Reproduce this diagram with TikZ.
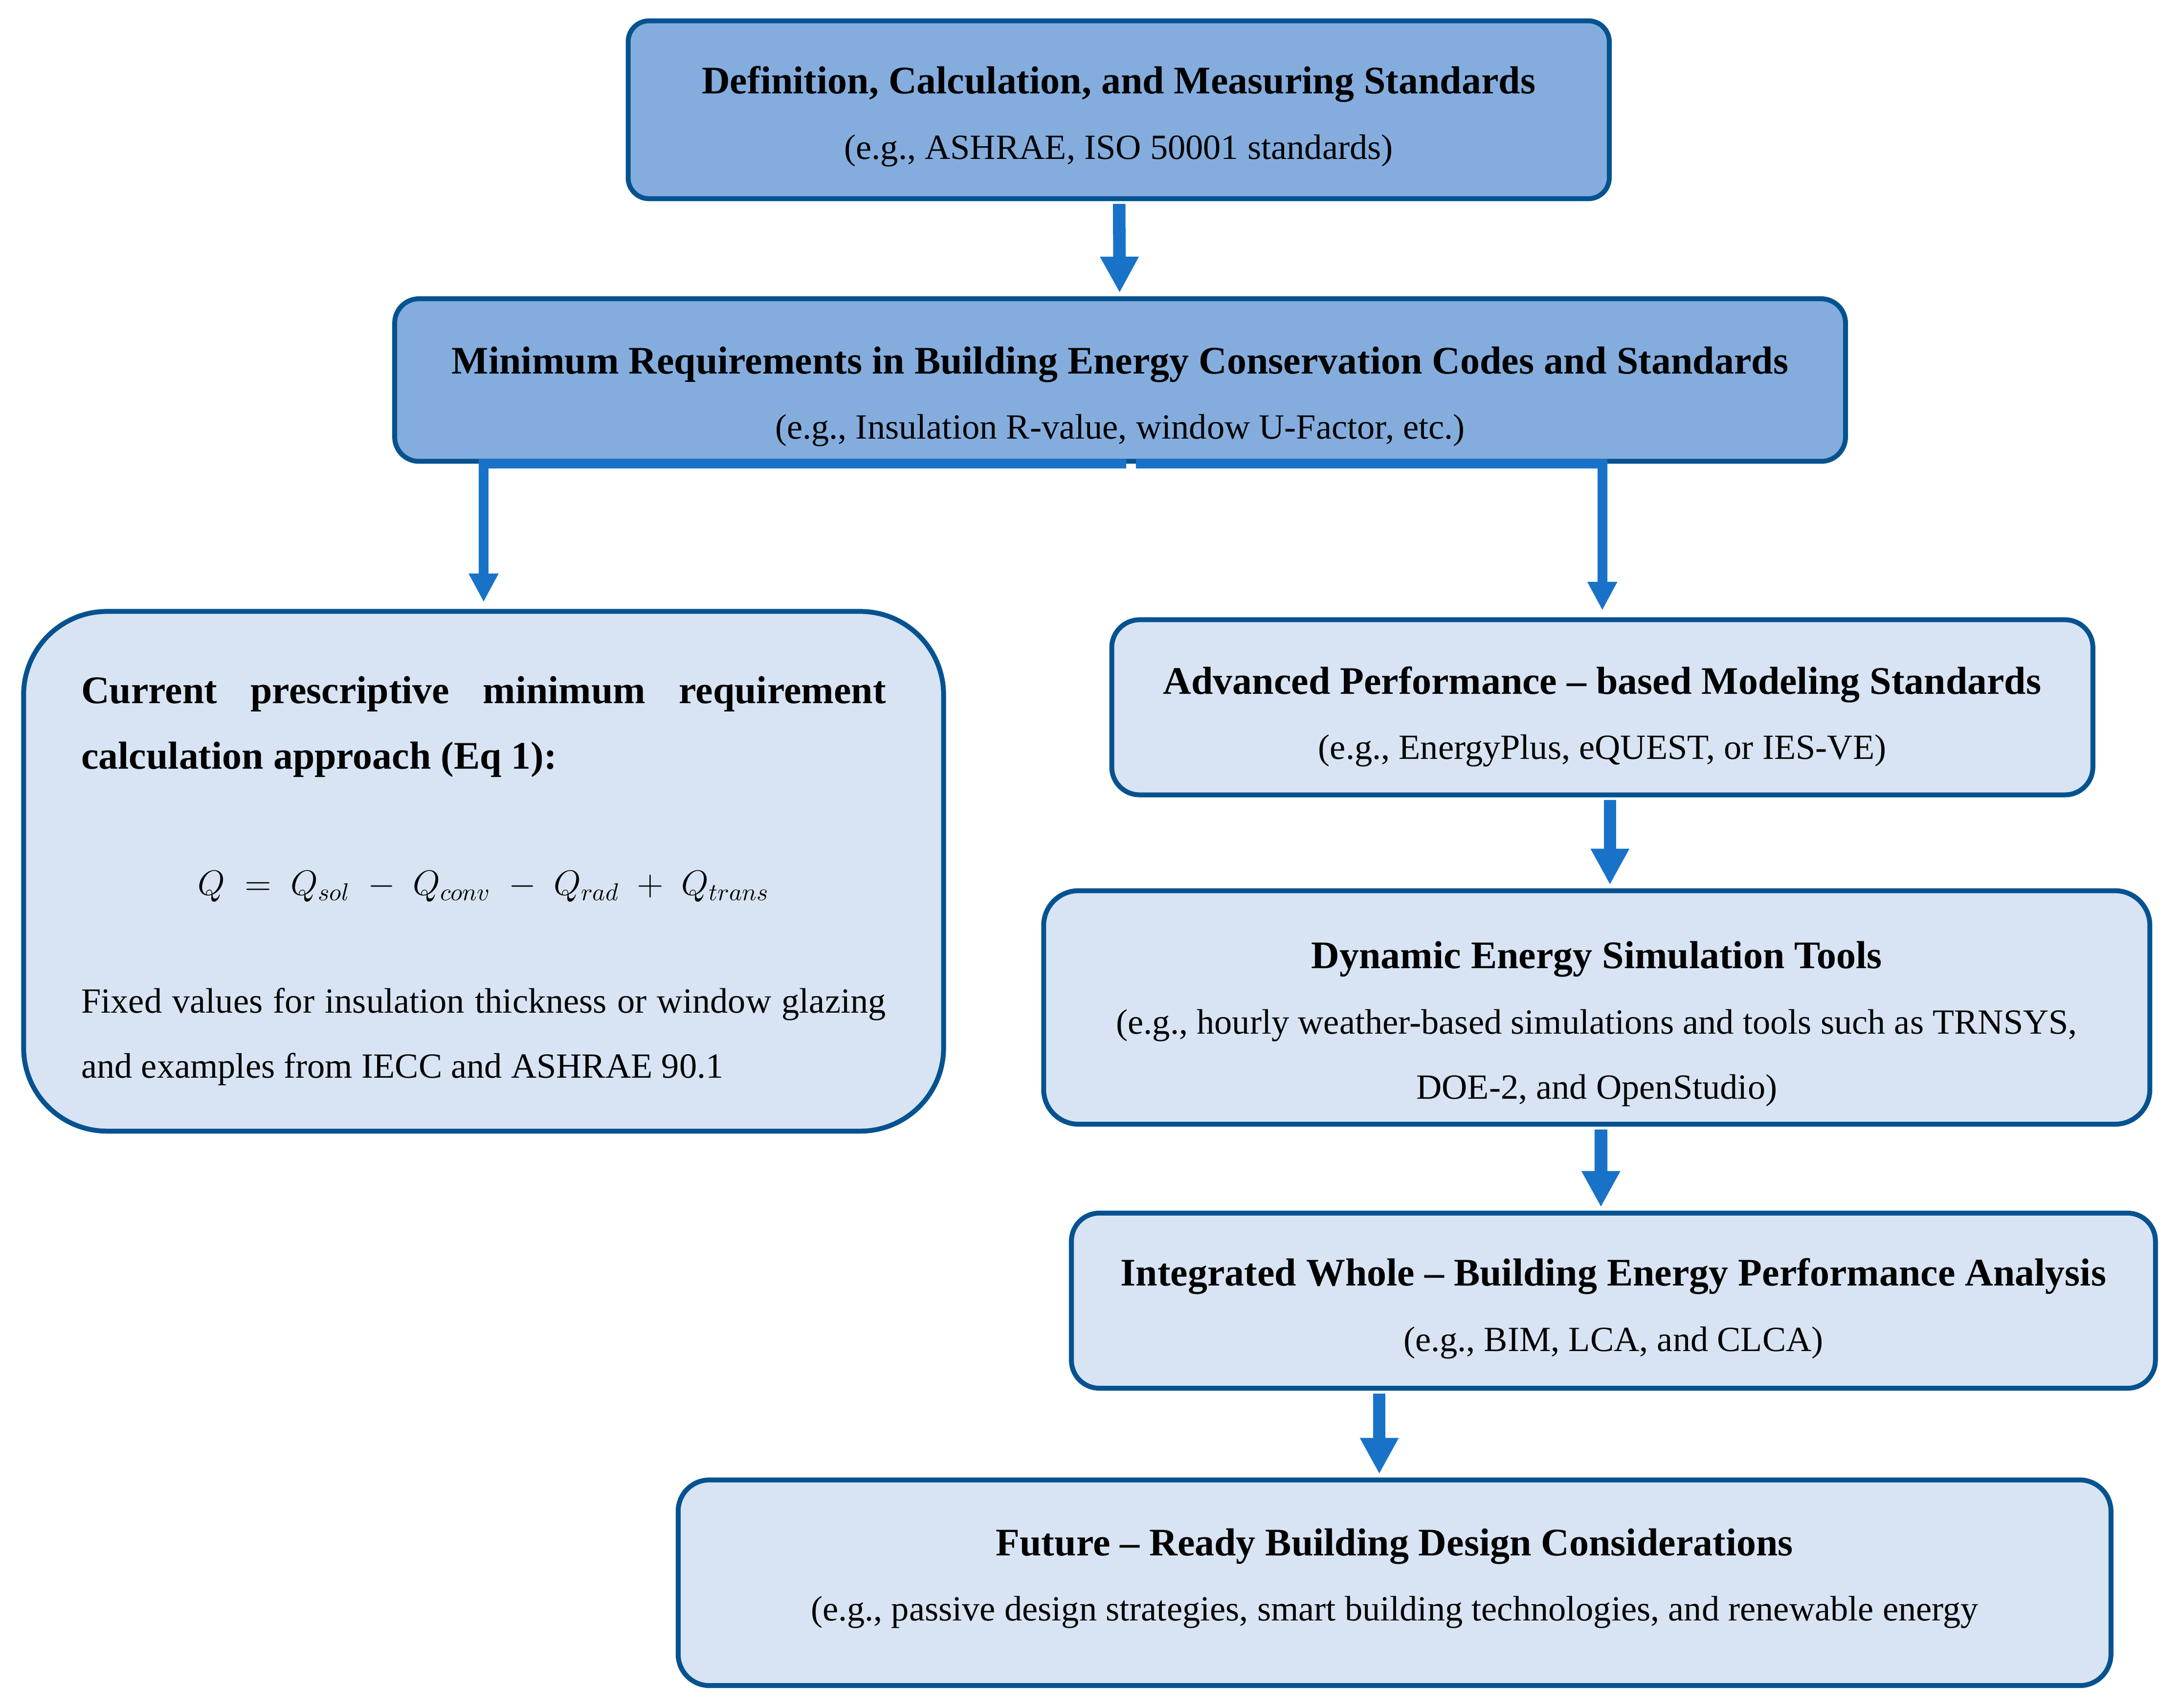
\documentclass[tikz,border=0pt]{standalone}
\usepackage{fontspec}
\setmainfont{Liberation Serif}
\usetikzlibrary{arrows.meta}
\definecolor{boxline}{RGB}{4,82,144}
\definecolor{headfill}{RGB}{132,173,222}
\definecolor{bodyfill}{RGB}{216,228,243}
\definecolor{flowblue}{RGB}{24,115,200}
% bold first line of a box, #1 = height of its strut
\newcommand{\boxhead}[2]{\rule{0pt}{#1}{\fontsize{16}{26.7}\selectfont\bfseries #2}}
\begin{document}
\begin{tikzpicture}[
	box/.style={draw=boxline,line width=2pt,inner sep=0pt,align=center,font=\fontsize{14.5}{26.7}\selectfont},
	headbox/.style={box,fill=headfill},
	bodybox/.style={box,fill=bodyfill},
	link/.style={flowblue,line width=0.18cm,-{Triangle[length=0.52cm,width=0.52cm]},shorten >=0.05cm,shorten <=0.04cm},
	branch/.style={flowblue,line width=0.14cm,-{Triangle[length=0.41cm,width=0.40cm]},shorten >=0.1cm}]
	\useasboundingbox (0,0) rectangle (31.36,24.58);
	
	\node[headbox,rounded corners=0.3cm,minimum width=14.12cm,minimum height=2.56cm] (defin) at (16.10,23.00)
		{\boxhead{16.7pt}{Definition, Calculation, and Measuring Standards}\\(e.g., ASHRAE, ISO 50001 standards)};
	\node[headbox,rounded corners=0.35cm,minimum width=20.88cm,minimum height=2.34cm] (minreq) at (16.12,19.11)
		{\boxhead{24.6pt}{Minimum Requirements in Building Energy Conservation Codes and Standards}\\(e.g., Insulation R-value, window U-Factor, etc.)};
	\node[bodybox,rounded corners=1.2cm,minimum width=13.24cm,minimum height=7.48cm,text width=11.58cm,align=justify] (curr) at (6.96,12.04)
		{\boxhead{19pt}{Current prescriptive minimum requirement\linebreak calculation approach (Eq~1):}\par\vspace{25pt}
		{\centering $Q \;=\; Q_{sol} \;-\; Q_{conv} \;-\; Q_{rad} \;+\; Q_{trans}$\par}\vspace{21.5pt}
		Fixed values for insulation thickness or window glazing\linebreak and examples from IECC and ASHRAE 90.1};
	\node[bodybox,rounded corners=0.4cm,minimum width=14.12cm,minimum height=2.52cm] (adv) at (23.06,14.40)
		{\boxhead{19pt}{Advanced Performance – based Modeling Standards}\\(e.g., EnergyPlus, eQUEST, or IES-VE)};
	\node[bodybox,rounded corners=0.5cm,minimum width=15.92cm,minimum height=3.36cm] (dyn) at (22.98,10.08)
		{\boxhead{24.6pt}{Dynamic Energy Simulation Tools}\\(e.g., hourly weather-based simulations and tools such as TRNSYS,\\DOE-2, and OpenStudio)};
	\node[bodybox,rounded corners=0.4cm,minimum width=15.60cm,minimum height=2.52cm] (integ) at (23.22,5.86)
		{\boxhead{17.8pt}{Integrated Whole – Building Energy Performance Analysis}\\(e.g., BIM, LCA, and CLCA)};
	\node[bodybox,rounded corners=0.45cm,minimum width=20.62cm,minimum height=2.96cm] (future) at (20.07,1.80)
		{\boxhead{0pt}{Future – Ready Building Design Considerations}\\(e.g., passive design strategies, smart building technologies, and renewable energy\rule[-6.6pt]{0pt}{0pt}};
	
	\draw[link] (defin) -- (minreq);
	\draw[branch] ([xshift=0.09cm]minreq.south) -| (curr.north);
	\draw[branch] ([xshift=0.23cm]minreq.south) -| (adv.north);
	\draw[link] (adv.south -| 23.17,0) -- (dyn.north -| 23.17,0);
	\draw[link] (dyn.south -| 23.04,0) -- (integ.north -| 23.04,0);
	\draw[link] (integ.south -| 19.85,0) -- (future.north -| 19.85,0);
\end{tikzpicture}
\end{document}
